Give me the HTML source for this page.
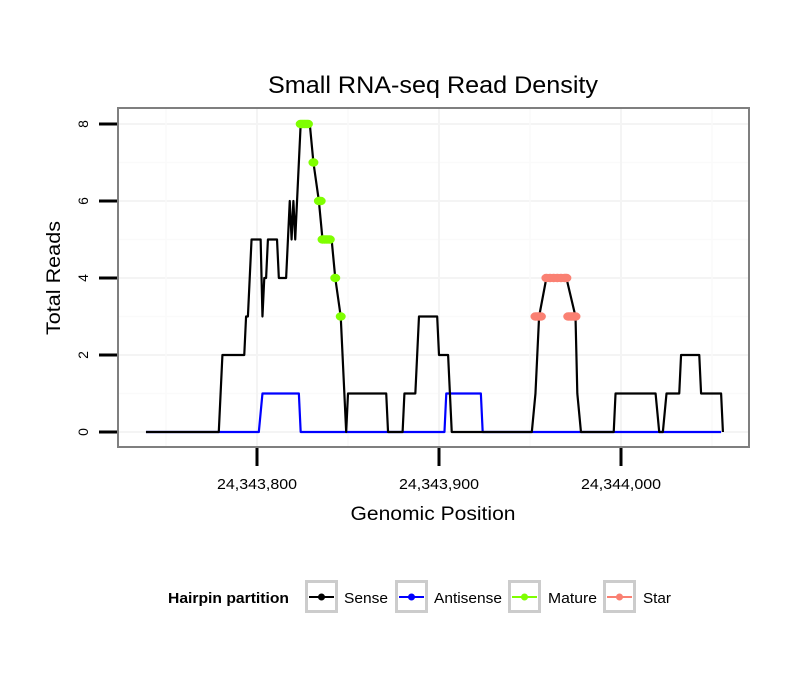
<!DOCTYPE html>
<html><head><meta charset="utf-8"><style>
body{margin:0;background:#fff;}
svg text{font-family:"Liberation Sans",Arial,sans-serif;}
</style></head><body>
<svg id="chart" width="810" height="690" viewBox="0 0 810 690" xmlns="http://www.w3.org/2000/svg">
<rect x="0" y="0" width="810" height="690" fill="#fff"/>
<text x="433" y="93" text-anchor="middle" font-size="24" textLength="330" lengthAdjust="spacingAndGlyphs">Small RNA-seq Read Density</text>
<g id="grid"></g>
<g id="axes"></g>
<g id="marks"></g>
<rect x="118" y="108" width="631" height="339" fill="none" stroke="#7f7f7f" stroke-width="2"/>
<text x="433" y="520" text-anchor="middle" font-size="19" textLength="165" lengthAdjust="spacingAndGlyphs">Genomic Position</text>
<text transform="translate(60,278) rotate(-90)" text-anchor="middle" font-size="19" textLength="114" lengthAdjust="spacingAndGlyphs">Total Reads</text>
<g id="legend">
<text x="168" y="603" font-size="15" font-weight="bold" textLength="121" lengthAdjust="spacingAndGlyphs">Hairpin partition</text>
</g>
</svg>
<script>
const xTicks=[24343800,24343900,24344000];
const xTickLabels=["24,343,800","24,343,900","24,344,000"];
const yTicks=[0,2,4,6,8];
const senseX=[24343739,24343779,24343781,24343793,24343794,24343795,24343796,24343797,24343802,24343803,24343804,24343805,24343806,24343811,24343812,24343816,24343818,24343819,24343820,24343821,24343824,24343829,24343831,24343834,24343836,24343841,24343843,24343846,24343849,24343850,24343871,24343872,24343880,24343881,24343887,24343889,24343899,24343900,24343905,24343907,24343951,24343953,24343955,24343959,24343970,24343975,24343976,24343978,24343996,24343997,24344019,24344021,24344023,24344025,24344032,24344033,24344043,24344044,24344055,24344056];
const senseY=[0,0,2,2,3,3,4,5,5,3,4,4,5,5,4,4,6,5,6,5,8,8,7,6,5,5,4,3,0,1,1,0,0,1,1,3,3,2,2,0,0,1,3,4,4,3,1,0,0,1,1,0,0,1,1,2,2,1,1,0];
const antiX=[24343739,24343801,24343803,24343823,24343824,24343903,24343904,24343923,24343924,24344055];
const antiY=[0,0,1,1,0,0,1,1,0,0];
const matureX=[24343824,24343825,24343826,24343827,24343828,24343831,24343834,24343835,24343836,24343837,24343838,24343839,24343840,24343843,24343846];
const matureY=[8,8,8,8,8,7,6,6,5,5,5,5,5,4,3];
const starX=[24343953,24343954,24343955,24343956,24343959,24343961,24343963,24343965,24343967,24343969,24343970,24343971,24343972,24343973,24343974,24343975];
const starY=[3,3,3,3,4,4,4,4,4,4,4,3,3,3,3,3];
const NS="http://www.w3.org/2000/svg";
function sx(v){return 257+(v-24343800)*1.82;}
function sy(v){return 432-v*38.5;}
function mk(tag,attrs,parent){const e=document.createElementNS(NS,tag);for(const k in attrs)e.setAttribute(k,attrs[k]);document.getElementById(parent).appendChild(e);return e;}
for(let v=-1;v<=9;v+=1){const y=sy(v);if(y<110||y>445)continue;
 const g=mk('line',{x1:119,x2:748,y1:y,y2:y,stroke:v%2===0?'#f4f4f4':'#fafafa','stroke-width':v%2===0?2:1.5},'grid');
 
 }
for(let v=24343750;v<=24344050;v+=50){const x=sx(v);
 const g=mk('line',{x1:x,x2:x,y1:109,y2:446,stroke:(v%100===0)?'#f4f4f4':'#fafafa','stroke-width':(v%100===0)?2:1.5},'grid');
 
 }
yTicks.forEach(v=>{const y=sy(v);
 const t=mk('line',{x1:99,x2:117,y1:y,y2:y,stroke:'#000','stroke-width':3},'axes');
 
 
 const l=mk('text',{transform:`translate(88,${y}) rotate(-90)`,'text-anchor':'middle','font-size':14},'axes');l.textContent=v;
 
 });
xTicks.forEach((v,i)=>{const x=sx(v);
 const t=mk('line',{x1:x,x2:x,y1:448,y2:466,stroke:'#000','stroke-width':3},'axes');
 
 
 const l=mk('text',{x:x,y:489,'text-anchor':'middle','font-size':15,textLength:80,lengthAdjust:'spacingAndGlyphs'},'axes');l.textContent=xTickLabels[i];
 
 });
function line(xs,ys,color,name){const p=mk('polyline',{points:xs.map((x,i)=>sx(x)+','+sy(ys[i])).join(' '),fill:'none',stroke:color,'stroke-width':2.2,'stroke-linejoin':'round'},'marks');
 
 }
line(antiX,antiY,'#0000ff','antisense-line');
line(senseX,senseY,'#000','sense-line');
function dots(xs,ys,color,name){xs.forEach((x,i)=>{const c=mk('ellipse',{cx:sx(x),cy:sy(ys[i]),rx:5,ry:4.2,fill:color},'marks');
 
 });}
dots(matureX,matureY,'#7fff00','mature-point');
dots(starX,starY,'#fa8072','star-point');
const keys=[['Sense','#000',305,344,44],['Antisense','#0000ff',395,434,68],['Mature','#7fff00',508,548,49],['Star','#fa8072',603,643,28]];
keys.forEach(k=>{
 const r=mk('rect',{x:k[2]+1.5,y:581.5,width:30,height:30,fill:'#fff',stroke:'#cccccc','stroke-width':3},'legend');
 
 
 const l=mk('line',{x1:k[2]+4,x2:k[2]+29,y1:597,y2:597,stroke:k[1],'stroke-width':2},'legend');
 
 
 const c=mk('circle',{cx:k[2]+16.5,cy:597,r:3.5,fill:k[1]},'legend');
 
 
 const t=mk('text',{x:k[3],y:603,'font-size':15,textLength:k[4],lengthAdjust:'spacingAndGlyphs'},'legend');t.textContent=k[0];
 
 });
</script>
</body></html>
